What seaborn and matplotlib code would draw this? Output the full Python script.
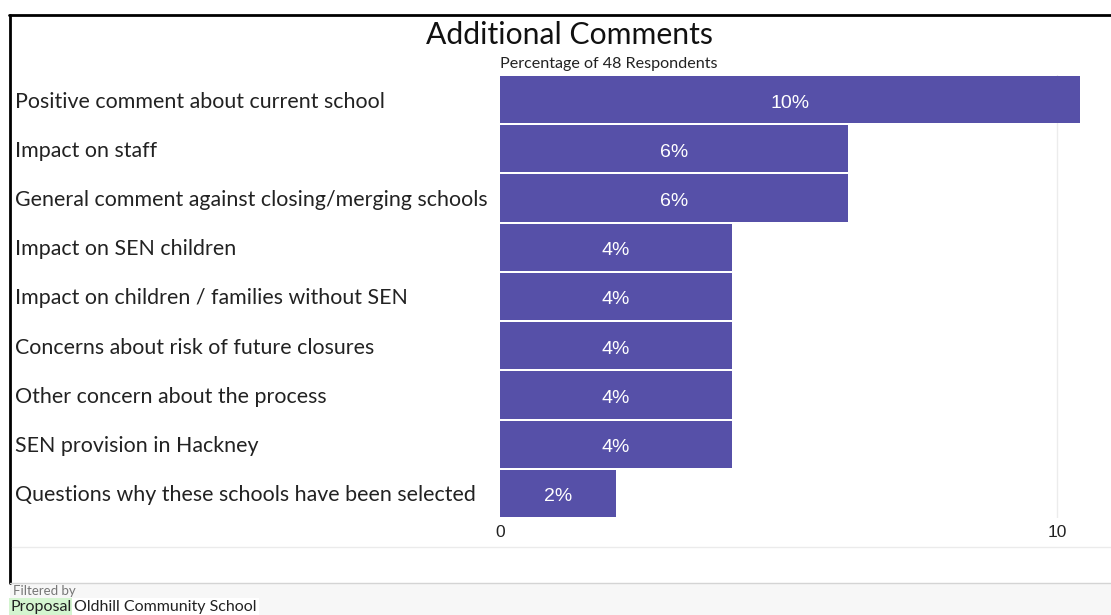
import matplotlib
matplotlib.use("Agg")
import matplotlib.pyplot as plt
import seaborn as sns
import pandas as pd
from matplotlib.lines import Line2D
from matplotlib.patches import Rectangle

# Survey data
categories = [
    "Positive comment about current school",
    "Impact on staff",
    "General comment against closing/merging schools",
    "Impact on SEN children",
    "Impact on children / families without SEN",
    "Concerns about risk of future closures",
    "Other concern about the process",
    "SEN provision in Hackney",
    "Questions why these schools have been selected",
]
counts = [5, 3, 3, 2, 2, 2, 2, 2, 1]
respondents = 48
x_ticks = [0, 10]

percent = [c / respondents * 100 for c in counts]
df = pd.DataFrame({"category": categories, "percent": percent})

sns.set_theme(style="white")
plt.rcParams["font.family"] = ["Lato", "DejaVu Sans"]

W, H = 1111, 615
fig = plt.figure(figsize=(W / 100, H / 100), dpi=100)
fig.patch.set_facecolor("white")


def fx(px):
    return px / W


def fy(py):
    return 1 - py / H


# plot area in pixel terms
left, right, top, bottom = 500, 1090, 75, 518
ax = fig.add_axes([fx(left), fy(bottom), fx(right - left), (bottom - top) / H])

bar_color = "#5650a8"
sns.barplot(data=df, y="category", x="percent", orient="h", color=bar_color,
            saturation=1, width=0.96, ax=ax, edgecolor="none")

px_per_unit = (1057 - 500) / 10
ax.set_xlim(0, (right - left) / px_per_unit)
ax.set_ylim(len(categories) - 0.5, -0.5)

ax.set_xticks(x_ticks)
ax.set_xticklabels([str(t) for t in x_ticks], fontsize=12.5, color="#222222",
                   family=["Liberation Sans", "DejaVu Sans"])
ax.tick_params(axis="x", length=0, pad=5)
ax.set_yticks([])
ax.set_xlabel("")
ax.set_ylabel("")
for s in ax.spines.values():
    s.set_visible(False)

# gridline at 10
ax.axvline(10, color="#ececec", lw=1, zorder=0)

# value labels
for i, v in enumerate(percent):
    ax.text(v / 2, i + 0.07, f"{v:.0f}%", ha="center", va="center", color="white",
            fontsize=14, family=["Liberation Sans", "DejaVu Sans"])

# category labels, left aligned
for i, cat in enumerate(categories):
    yc = top + (i + 0.5) * (bottom - top) / len(categories)
    fig.text(fx(15), fy(yc + 2), cat, ha="left", va="center",
             fontsize=15.4, color="#222222")

# title and subtitle
fig.text(fx(569), fy(35), "Additional Comments", ha="center", va="center",
         fontsize=21.7, color="#111111")
fig.text(fx(500), fy(64), f"Percentage of {respondents} Respondents",
         ha="left", va="center", fontsize=11.6, color="#222222")

# frame lines
fig.add_artist(Line2D([fx(9), fx(W)], [fy(15), fy(15)], color="black", lw=2))
fig.add_artist(Line2D([fx(10), fx(10)], [fy(15), fy(583)], color="black", lw=2))
fig.add_artist(Line2D([fx(12), fx(W)], [fy(547), fy(547)], color="#ebebeb", lw=1))

# footer
fig.add_artist(Rectangle((fx(10), 0), 1 - fx(10), fy(583), transform=fig.transFigure,
                         facecolor="#f7f7f7", edgecolor="none"))
fig.add_artist(Line2D([fx(10), fx(W)], [fy(583), fy(583)], color="#d4d4d4", lw=1))
fig.text(fx(13), fy(591), "Filtered by", ha="left", va="center",
         fontsize=9.5, color="#777777")
fig.text(fx(11), fy(607), "Proposal", ha="left", va="center", fontsize=11.5,
         color="#222222",
         bbox=dict(boxstyle="square,pad=0.15", facecolor="#d4f5d0", edgecolor="none"))
fig.text(fx(74), fy(607), "Oldhill Community School", ha="left", va="center",
         fontsize=11.5, color="#222222",
         bbox=dict(boxstyle="square,pad=0.15", facecolor="white", edgecolor="none"))

fig.savefig("out.png", dpi=100)
